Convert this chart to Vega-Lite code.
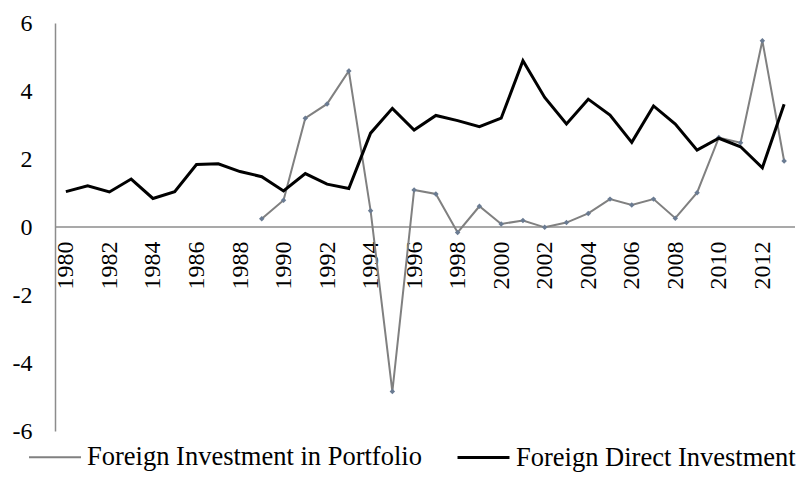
{
  "$schema": "https://vega.github.io/schema/vega-lite/v6.json",
  "width": 740,
  "height": 408,
  "autosize": {"type": "none"},
  "padding": {"left": 55, "top": 23, "right": 4, "bottom": 46},
  "background": "white",
  "config": {
    "view": {"stroke": null},
    "font": "Times New Roman, Liberation Serif, serif"
  },
  "datasets": {
    "fdi": [
      {"year": 1980, "series": "Foreign Direct Investment", "value": 1.04},
      {"year": 1981, "series": "Foreign Direct Investment", "value": 1.21},
      {"year": 1982, "series": "Foreign Direct Investment", "value": 1.03},
      {"year": 1983, "series": "Foreign Direct Investment", "value": 1.41},
      {"year": 1984, "series": "Foreign Direct Investment", "value": 0.84},
      {"year": 1985, "series": "Foreign Direct Investment", "value": 1.04},
      {"year": 1986, "series": "Foreign Direct Investment", "value": 1.84},
      {"year": 1987, "series": "Foreign Direct Investment", "value": 1.86},
      {"year": 1988, "series": "Foreign Direct Investment", "value": 1.63},
      {"year": 1989, "series": "Foreign Direct Investment", "value": 1.48},
      {"year": 1990, "series": "Foreign Direct Investment", "value": 1.06},
      {"year": 1991, "series": "Foreign Direct Investment", "value": 1.57},
      {"year": 1992, "series": "Foreign Direct Investment", "value": 1.26},
      {"year": 1993, "series": "Foreign Direct Investment", "value": 1.13},
      {"year": 1994, "series": "Foreign Direct Investment", "value": 2.76},
      {"year": 1995, "series": "Foreign Direct Investment", "value": 3.49},
      {"year": 1996, "series": "Foreign Direct Investment", "value": 2.85},
      {"year": 1997, "series": "Foreign Direct Investment", "value": 3.28},
      {"year": 1998, "series": "Foreign Direct Investment", "value": 3.13},
      {"year": 1999, "series": "Foreign Direct Investment", "value": 2.95},
      {"year": 2000, "series": "Foreign Direct Investment", "value": 3.2},
      {"year": 2001, "series": "Foreign Direct Investment", "value": 4.89},
      {"year": 2002, "series": "Foreign Direct Investment", "value": 3.81},
      {"year": 2003, "series": "Foreign Direct Investment", "value": 3.03},
      {"year": 2004, "series": "Foreign Direct Investment", "value": 3.76},
      {"year": 2005, "series": "Foreign Direct Investment", "value": 3.29},
      {"year": 2006, "series": "Foreign Direct Investment", "value": 2.49},
      {"year": 2007, "series": "Foreign Direct Investment", "value": 3.56},
      {"year": 2008, "series": "Foreign Direct Investment", "value": 3.03},
      {"year": 2009, "series": "Foreign Direct Investment", "value": 2.26},
      {"year": 2010, "series": "Foreign Direct Investment", "value": 2.61},
      {"year": 2011, "series": "Foreign Direct Investment", "value": 2.36},
      {"year": 2012, "series": "Foreign Direct Investment", "value": 1.74},
      {"year": 2013, "series": "Foreign Direct Investment", "value": 3.61}
    ],
    "portfolio": [
      {"year": 1989, "series": "Foreign Investment in Portfolio", "value": 0.24},
      {"year": 1990, "series": "Foreign Investment in Portfolio", "value": 0.79},
      {"year": 1991, "series": "Foreign Investment in Portfolio", "value": 3.2},
      {"year": 1992, "series": "Foreign Investment in Portfolio", "value": 3.62},
      {"year": 1993, "series": "Foreign Investment in Portfolio", "value": 4.59},
      {"year": 1994, "series": "Foreign Investment in Portfolio", "value": 0.48},
      {"year": 1995, "series": "Foreign Investment in Portfolio", "value": -4.84},
      {"year": 1996, "series": "Foreign Investment in Portfolio", "value": 1.09},
      {"year": 1997, "series": "Foreign Investment in Portfolio", "value": 0.97},
      {"year": 1998, "series": "Foreign Investment in Portfolio", "value": -0.16},
      {"year": 1999, "series": "Foreign Investment in Portfolio", "value": 0.61},
      {"year": 2000, "series": "Foreign Investment in Portfolio", "value": 0.09},
      {"year": 2001, "series": "Foreign Investment in Portfolio", "value": 0.19},
      {"year": 2002, "series": "Foreign Investment in Portfolio", "value": -0.01},
      {"year": 2003, "series": "Foreign Investment in Portfolio", "value": 0.13},
      {"year": 2004, "series": "Foreign Investment in Portfolio", "value": 0.4},
      {"year": 2005, "series": "Foreign Investment in Portfolio", "value": 0.82},
      {"year": 2006, "series": "Foreign Investment in Portfolio", "value": 0.65},
      {"year": 2007, "series": "Foreign Investment in Portfolio", "value": 0.82},
      {"year": 2008, "series": "Foreign Investment in Portfolio", "value": 0.26},
      {"year": 2009, "series": "Foreign Investment in Portfolio", "value": 1.01},
      {"year": 2010, "series": "Foreign Investment in Portfolio", "value": 2.63},
      {"year": 2011, "series": "Foreign Investment in Portfolio", "value": 2.48},
      {"year": 2012, "series": "Foreign Investment in Portfolio", "value": 5.48},
      {"year": 2013, "series": "Foreign Investment in Portfolio", "value": 1.94}
    ],
    "zero": [{"v": 0}]
  },
  "resolve": {"scale": {"x": "shared", "y": "shared"}},
  "layer": [
    {
      "data": {"name": "zero"},
      "mark": {"type": "rule", "color": "#8c8c8c", "strokeWidth": 1.5},
      "encoding": {
        "y": {
          "field": "v", "type": "quantitative",
          "scale": {"domain": [-6, 6], "nice": false, "zero": false},
          "axis": {
            "title": null,
            "values": [-6, -4, -2, 0, 2, 4, 6],
            "grid": false,
            "ticks": false,
            "domainColor": "#8c8c8c",
            "domainWidth": 1.5,
            "labelPadding": 23,
            "labelExpr": "datum.value + ''",
            "labelFont": "Times New Roman, Liberation Serif, serif",
            "labelFontSize": 24,
            "labelColor": "#000000"
          }
        }
      }
    },
    {
      "data": {"name": "portfolio"},
      "mark": {"type": "line", "strokeJoin": "miter"},
      "encoding": {
        "x": {
          "field": "year", "type": "ordinal",
          "scale": {"type": "point", "domain": [1980,1981,1982,1983,1984,1985,1986,1987,1988,1989,1990,1991,1992,1993,1994,1995,1996,1997,1998,1999,2000,2001,2002,2003,2004,2005,2006,2007,2008,2009,2010,2011,2012,2013], "padding": 0.5},
          "axis": {
            "title": null,
            "domain": false,
            "ticks": false,
            "offset": -204,
            "labelAngle": -90,
            "labelPadding": 14,
            "labelFont": "Times New Roman, Liberation Serif, serif",
            "labelFontSize": 24,
            "labelColor": "#000000",
            "labelExpr": "datum.value % 2 == 0 ? datum.label : ''"
          }
        },
        "y": {"field": "value", "type": "quantitative"},
        "color": {
          "field": "series", "type": "nominal",
          "scale": {"domain": ["Foreign Investment in Portfolio", "Foreign Direct Investment"], "range": ["#808080", "#000000"]},
          "legend": {
            "title": null,
            "orient": "none",
            "direction": "horizontal",
            "legendX": -27,
            "legendY": 407,
            "symbolType": "stroke",
            "symbolSize": 2700,
            "symbolStrokeWidth": 3,
            "labelFont": "Times New Roman, Liberation Serif, serif",
            "labelFontSize": 26.5,
            "labelColor": "#000000",
            "labelOffset": 5,
            "columnPadding": 29,
            "labelLimit": 500
          }
        },
        "strokeWidth": {
          "field": "series", "type": "nominal",
          "scale": {"domain": ["Foreign Investment in Portfolio", "Foreign Direct Investment"], "range": [2, 3]},
          "legend": null
        }
      }
    },
    {
      "data": {"name": "portfolio"},
      "mark": {"type": "point", "shape": "diamond", "filled": true, "size": 30, "color": "#6a7b92", "opacity": 1},
      "encoding": {
        "x": {"field": "year", "type": "ordinal"},
        "y": {"field": "value", "type": "quantitative"}
      }
    },
    {
      "data": {"name": "fdi"},
      "mark": {"type": "line", "strokeJoin": "miter"},
      "encoding": {
        "x": {"field": "year", "type": "ordinal"},
        "y": {"field": "value", "type": "quantitative"},
        "color": {"field": "series", "type": "nominal"},
        "strokeWidth": {"field": "series", "type": "nominal"}
      }
    }
  ]
}
